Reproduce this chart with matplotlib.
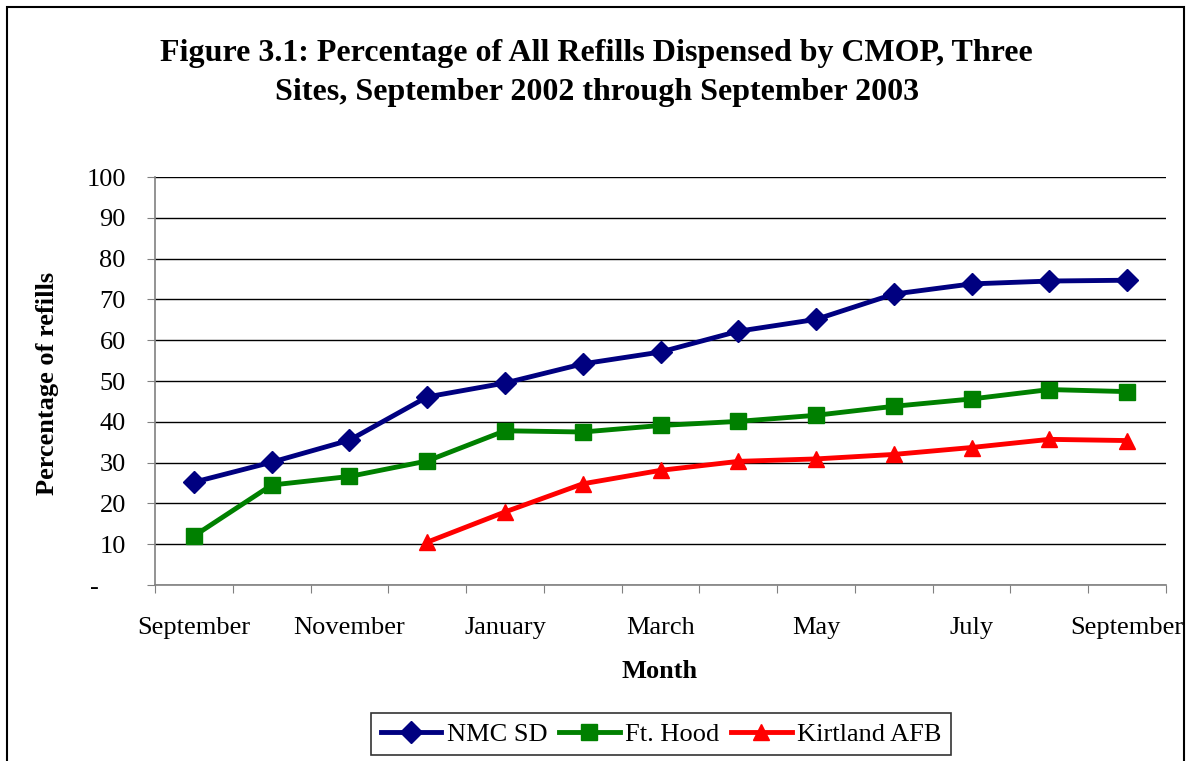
import numpy as np
from matplotlib import pyplot as plt
from matplotlib.patches import Rectangle

months = ["September", "October", "November", "December", "January",
          "February", "March", "April", "May", "June", "July", "August",
          "September"]

nmc_sd = [25.2, 30.1, 35.5, 46.1, 49.5, 54.2, 57.1, 62.2, 65.1, 71.3,
          73.8, 74.5, 74.7]
ft_hood = [12.0, 24.5, 26.6, 30.4, 37.8, 37.5, 39.1, 40.1, 41.6, 43.8,
           45.6, 47.9, 47.4]
kirtland = [None, None, None, 10.5, 17.9, 24.8, 28.1, 30.3, 30.9, 32.0,
            33.7, 35.7, 35.4]

y_ticks = [0, 10, 20, 30, 40, 50, 60, 70, 80, 90, 100]
y_labels = ["-    ", "10", "20", "30", "40", "50", "60", "70", "80", "90",
            "100"]

plt.rcParams["font.family"] = ["Liberation Serif", "DejaVu Serif"]

fig = plt.figure(figsize=(11.91, 7.61), dpi=100)
ax = fig.add_axes([155 / 1191, 1 - 585 / 761, 1011 / 1191, 408 / 761])

x = np.arange(len(months))
kx = np.array([i for i, v in enumerate(kirtland) if v is not None])
ky = np.array([v for v in kirtland if v is not None])

ax.plot(x, nmc_sd, color="#000080", lw=3.5, marker="D", ms=11,
        label="NMC SD", zorder=5)
ax.plot(x, ft_hood, color="#008000", lw=3.5, marker="s", ms=11,
        label="Ft. Hood", zorder=4)
ax.plot(kx, ky, color="#FF0000", lw=3.5, marker="^", ms=12,
        label="Kirtland AFB", zorder=3)

ax.set_xlim(-0.5, len(months) - 0.5)
ax.set_ylim(0, 100)
ax.set_yticks(y_ticks)
ax.set_yticklabels(y_labels, fontsize=19)
ax.yaxis.grid(True, color="black", lw=1)
ax.set_axisbelow(True)

# ticks sit between the months, labels on every other month
ax.set_xticks(np.arange(-0.5, len(months) + 0.5, 1))
ax.set_xticklabels([])
ax.set_xticks(x[::2], minor=True)
ax.set_xticklabels(months[::2], minor=True, fontsize=19)
ax.tick_params(axis="x", which="minor", length=0, pad=23)
ax.tick_params(axis="x", which="major", length=6, color="#808080",
               direction="out")
ax.tick_params(axis="y", length=6, color="#808080", pad=15)

for side in ["top", "right"]:
    ax.spines[side].set_visible(False)
for side in ["left", "bottom"]:
    ax.spines[side].set_color("#808080")
    ax.spines[side].set_linewidth(1.2)

fig.text(48 / 1191, 1 - 383 / 761, "Percentage of refills", rotation=90,
         ha="center", va="center", fontsize=19, fontweight="bold")
fig.text(660 / 1191, 1 - 672 / 761, "Month", ha="center", va="center",
         fontsize=19, fontweight="bold")

fig.text(0.501, 1 - 73 / 761,
         "Figure 3.1: Percentage of All Refills Dispensed by CMOP, Three\n"
         "Sites, September 2002 through September 2003",
         ha="center", va="center", fontsize=23, fontweight="bold",
         linespacing=1.43)

leg = ax.legend(loc="center", bbox_to_anchor=(661 / 1191, 1 - 734 / 761),
                bbox_transform=fig.transFigure, ncol=3, fontsize=19,
                frameon=True, fancybox=False, edgecolor="black",
                handlelength=2.3, handletextpad=0.2, columnspacing=0.45,
                borderpad=0.35, borderaxespad=0)
leg.get_frame().set_linewidth(1.2)

fig.patches.append(Rectangle((6.5 / 1191, -0.01), 1177 / 1191,
                             1 - 6.5 / 761 + 0.01,
                             transform=fig.transFigure, fill=False,
                             edgecolor="black", lw=1.5))

fig.savefig("out.png", dpi=100)
